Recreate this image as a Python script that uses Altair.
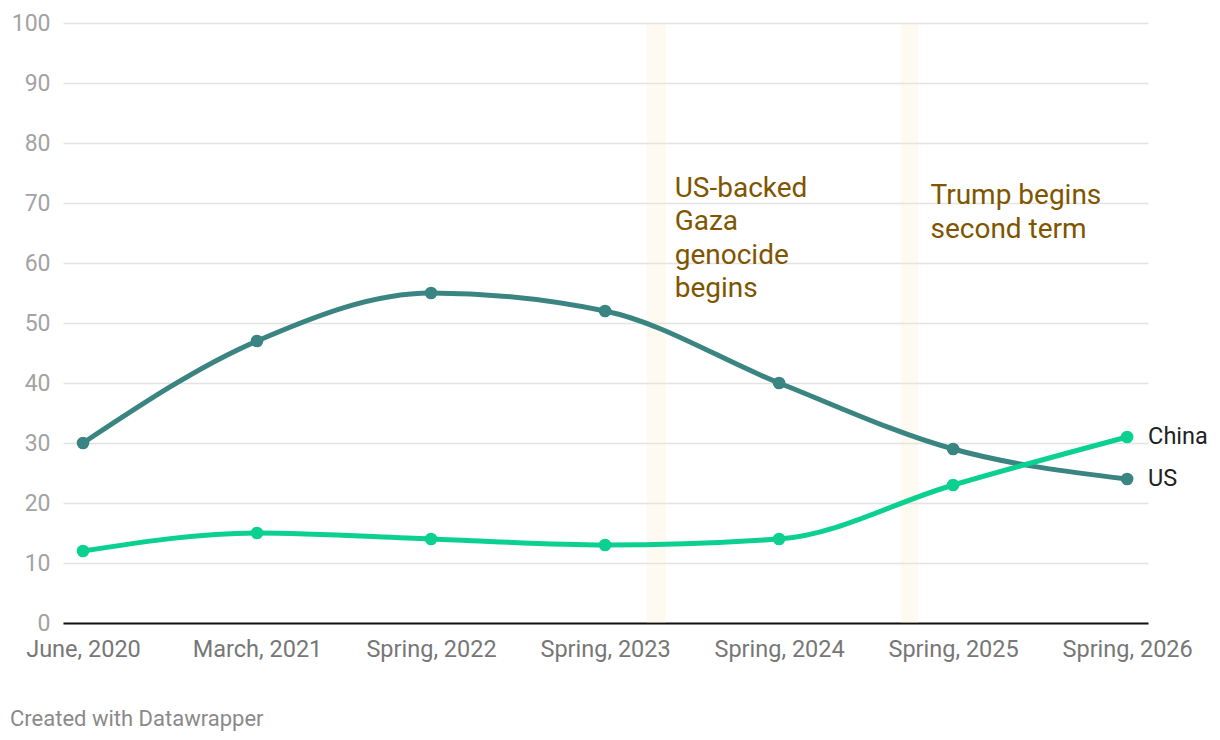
import altair as alt
import pandas as pd

periods = ["June, 2020", "March, 2021", "Spring, 2022", "Spring, 2023",
           "Spring, 2024", "Spring, 2025", "Spring, 2026"]
us_values = [30, 47, 55, 52, 40, 29, 24]
china_values = [12, 15, 14, 13, 14, 23, 31]

band_start = [3.24, 4.70]
band_end = [3.35, 4.80]

annot_x = [3.40, 4.87]
annot_y = [74.7, 73.5]
annot_text = [["US-backed", "Gaza", "genocide", "begins"], ["Trump begins", "second term"]]

US_COLOR = "#3a8581"
CN_COLOR = "#0bd08f"
FONT = "Roboto"

rows = []
for i, (u, c) in enumerate(zip(us_values, china_values)):
    rows.append({"i": i, "period": periods[i], "series": "US", "value": u})
    rows.append({"i": i, "period": periods[i], "series": "China", "value": c})
df = pd.DataFrame(rows)
last = df[df["i"] == len(periods) - 1]
bands = pd.DataFrame({"x": band_start, "x2": band_end})
annots = pd.DataFrame({"x": annot_x, "y": annot_y, "text": annot_text})

label_expr = "[" + ",".join(f"'{p}'" for p in periods) + "][datum.value]"

xscale = alt.Scale(domain=[-0.115, 6.12], nice=False, zero=False)
yscale = alt.Scale(domain=[0, 100], nice=False)
color_scale = alt.Scale(domain=["US", "China"], range=[US_COLOR, CN_COLOR])

base = alt.Chart(df)

band_layer = alt.Chart(bands).mark_rect(color="#fbe9c4", opacity=0.22).encode(
    x=alt.X("x:Q", scale=xscale,
            axis=alt.Axis(values=list(range(len(periods))), labelExpr=label_expr,
                          title=None, grid=False, ticks=False,
                          domainColor="#111111", domainWidth=2.2,
                          labelFont=FONT, labelFontSize=23.5, labelColor="#777777",
                          labelPadding=14, labelOverlap=False)),
    x2="x2:Q",
    y=alt.value(0),
    y2=alt.value(600),
)

lines = base.mark_line(strokeWidth=5, interpolate="monotone").encode(
    x=alt.X("i:Q", scale=xscale),
    y=alt.Y("value:Q", scale=yscale,
            axis=alt.Axis(values=list(range(0, 101, 10)), title=None, domain=False,
                          ticks=False, gridColor="#e3e3e3", gridWidth=1.5,
                          labelFont=FONT, labelFontSize=23, labelColor="#a3a3a3",
                          labelPadding=13)),
    color=alt.Color("series:N", scale=color_scale, legend=None),
    detail="series:N",
)

points = base.mark_circle(size=160, opacity=1).encode(
    x=alt.X("i:Q", scale=xscale),
    y=alt.Y("value:Q", scale=yscale),
    color=alt.Color("series:N", scale=color_scale, legend=None),
)

end_labels = alt.Chart(last).mark_text(
    align="left", baseline="middle", dx=21, font=FONT, fontSize=23.5, color="#222222"
).encode(
    x=alt.X("i:Q", scale=xscale),
    y=alt.Y("value:Q", scale=yscale),
    text="series:N",
)

annot_layer = alt.Chart(annots).mark_text(
    align="left", baseline="top", font=FONT, fontSize=28, lineHeight=33.5,
    color="#7f5500"
).encode(
    x=alt.X("x:Q", scale=xscale),
    y=alt.Y("y:Q", scale=yscale),
    text="text",
)

chart = alt.layer(band_layer, lines, points, end_labels, annot_layer).properties(
    width=1085, height=600,
    autosize=alt.AutoSizeParams(type="none"),
    padding={"left": 55, "top": 15, "right": 64, "bottom": 109},
    title=alt.TitleParams(
        "Created with Datawrapper", orient="bottom", anchor="start", frame="group",
        dx=-53, offset=48, font=FONT, fontSize=22, fontWeight="normal", color="#8a8a8a"
    ),
).configure_view(stroke=None).configure_axis(gridCap="butt")

chart.save("out.html", embed_options={"renderer": "svg", "actions": False})
